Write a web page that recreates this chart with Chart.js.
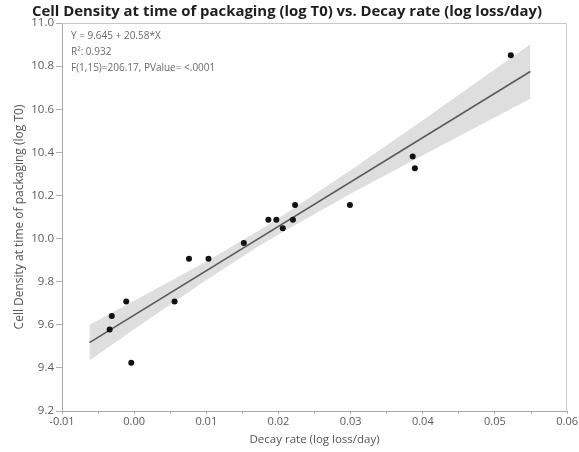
<!DOCTYPE html>
<html>
<head>
<meta charset="utf-8">
<script src="https://cdn.jsdelivr.net/npm/chart.js@4"></script>
<style>
  html, body { margin: 0; padding: 0; background: #fff; }
  #wrap { width: 579px; height: 452px; position: relative; }
</style>
</head>
<body>
<div id="wrap"><canvas id="c" width="579" height="452"></canvas></div>
<script>
// Observations: decay rate (log loss/day) vs. cell density at packaging (log T0)
const decayRate = [-0.0031, -0.0034, -0.0011, -0.0004, 0.0056, 0.0076, 0.0103, 0.0152, 0.0186, 0.0197,
                   0.0206, 0.0220, 0.0223, 0.0299, 0.0386, 0.0389, 0.0522];
const cellDensity = [9.641, 9.578, 9.708, 9.424, 9.708, 9.906, 9.906, 9.979, 10.087, 10.087,
                     10.048, 10.087, 10.156, 10.156, 10.381, 10.326, 10.850];

// Linear fit reported by the model
const fitIntercept = 9.645;
const fitSlope = 20.58;
const fitRange = [-0.0062, 0.0549];

// 95% confidence band of the fit
const bandX = [-0.0062, 0.0, 0.01, 0.0173, 0.02, 0.03, 0.04, 0.0549];
const bandLower = [9.434, 9.579, 9.808, 9.965, 10.019, 10.208, 10.387, 10.649];
const bandUpper = [9.600, 9.711, 9.894, 10.037, 10.094, 10.317, 10.549, 10.901];

// Fit summary text
const fitLines = ["Y = 9.645 + 20.58*X", "R\u00B2: 0.932", "F(1,15)=206.17, PValue= <.0001"];

const chartTitle = "Cell Density at time of packaging (log T0) vs. Decay rate (log loss/day)";
const xTitle = "Decay rate (log loss/day)";
const yTitle = "Cell Density at time of packaging (log T0)";

const xMin = -0.01, xMax = 0.06, xStep = 0.005;
const yMin = 9.2, yMax = 11.0, yStep = 0.2;

const FONT = "'Open Sans', 'Liberation Sans', sans-serif";

const upperPts = bandX.map((x, i) => ({ x, y: bandUpper[i] }));
const lowerPts = bandX.map((x, i) => ({ x, y: bandLower[i] }));
const fitPts = fitRange.map(x => ({ x, y: fitIntercept + fitSlope * x }));
const obsPts = decayRate.map((x, i) => ({ x, y: cellDensity[i] }));

// Frame, title and fit summary drawn on top of the library's axes
const decor = {
  id: 'decor',
  afterDraw(chart) {
    const { ctx, chartArea: a } = chart;
    ctx.save();
    ctx.strokeStyle = '#c8c8c8';
    ctx.lineWidth = 1;
    ctx.beginPath();
    ctx.moveTo(a.left, a.top + 0.5);
    ctx.lineTo(a.right - 0.5, a.top + 0.5);
    ctx.lineTo(a.right - 0.5, a.bottom);
    ctx.stroke();

    ctx.fillStyle = '#1e1e1e';
    ctx.font = "bold 14px " + FONT;
    ctx.textAlign = 'left';
    ctx.textBaseline = 'middle';
    const w = ctx.measureText(chartTitle).width;
    const target = 510;
    ctx.translate(32, 12);
    ctx.scale(target / w, 1);
    ctx.fillText(chartTitle, 0, 0);
    ctx.restore();

    ctx.save();
    ctx.fillStyle = '#6a6a6a';
    ctx.font = "10px " + FONT;
    ctx.textBaseline = 'middle';
    fitLines.forEach((t, i) => ctx.fillText(t, 71, 36 + i * 16));
    ctx.restore();
  }
};

new Chart(document.getElementById('c'), {
  type: 'scatter',
  data: {
    datasets: [
      { data: upperPts, showLine: true, borderWidth: 0, pointRadius: 0,
        backgroundColor: 'rgba(195,195,195,0.55)', fill: '+1', order: 3 },
      { data: lowerPts, showLine: true, borderWidth: 0, pointRadius: 0, fill: false, order: 3 },
      { data: fitPts, showLine: true, borderColor: '#5a5a5a', borderWidth: 1.6,
        pointRadius: 0, fill: false, order: 2 },
      { data: obsPts, pointRadius: 3, pointBackgroundColor: '#111', pointBorderColor: '#111',
        pointBorderWidth: 0, order: 1 }
    ]
  },
  options: {
    responsive: false,
    animation: false,
    devicePixelRatio: 1,
    layout: { padding: { top: 23, right: 10, left: 0, bottom: 0 } },
    plugins: { legend: { display: false }, tooltip: { enabled: false }, title: { display: false } },
    scales: {
      x: {
        type: 'linear', min: xMin, max: xMax,
        afterFit(s) { s.height = 41; },
        afterBuildTicks(s) {
          const t = [];
          for (let k = 0; k <= Math.round((xMax - xMin) / xStep); k++) t.push({ value: +(xMin + k * xStep).toFixed(3) });
          s.ticks = t;
        },
        ticks: {
          color: '#5a5a5a', font: { family: FONT, size: 11 }, padding: 1, maxRotation: 0, autoSkip: false,
          callback: v => (Math.round(v / xStep) % 2 === 0 ? v.toFixed(2) : '')
        },
        grid: { display: true, drawOnChartArea: false, tickLength: 3, tickColor: '#b0b0b0' },
        border: { color: '#a8a8a8', width: 1 },
        title: { display: true, text: xTitle, color: '#555', font: { family: FONT, size: 11.5 },
                 padding: { top: 0, bottom: 5 } }
      },
      y: {
        type: 'linear', min: yMin, max: yMax,
        afterFit(s) { s.width = 62; },
        ticks: { stepSize: yStep, color: '#5a5a5a', font: { family: FONT, size: 11.5 }, padding: 2,
                 callback: v => v.toFixed(1) },
        grid: { display: true, drawOnChartArea: false, tickLength: 6, tickColor: '#b0b0b0' },
        border: { color: '#a8a8a8', width: 1 },
        title: { display: true, text: yTitle, color: '#555', font: { family: FONT, size: 12 },
                 padding: { top: 12, bottom: 0 } }
      }
    }
  },
  plugins: [decor]
});
</script>
</body>
</html>
